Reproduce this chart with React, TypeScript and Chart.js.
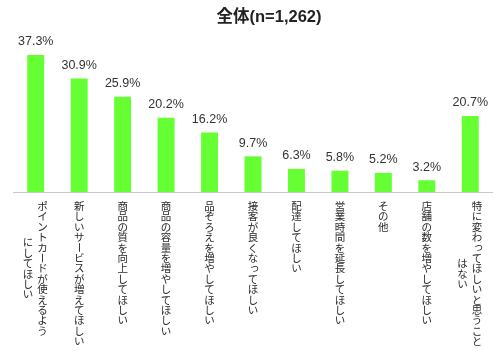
import { useEffect, useRef } from 'react';
import { Chart, registerables } from 'chart.js';

Chart.register(...registerables);

const chartTitle = '全体(n=1,262)';
const categories: string[] = [
  'ポイントカードが使えるよう\nにしてほしい',
  '新しいサービスが増えてほしい',
  '商品の質を向上してほしい',
  '商品の容量を増やしてほしい',
  '品ぞろえを増やしてほしい',
  '接客が良くなってほしい',
  '配達してほしい',
  '営業時間を延長してほしい',
  'その他',
  '店舗の数を増やしてほしい',
  '特に変わってほしいと思うこと\nはない',
];
const values: number[] = [37.3, 30.9, 25.9, 20.2, 16.2, 9.7, 6.3, 5.8, 5.2, 3.2, 20.7];

const LATIN_CJK = '"Liberation Sans", Arial, "Noto Sans CJK JP", sans-serif';
const CJK = '"Noto Sans CJK JP", "Liberation Sans", sans-serif';
const SMALL_KANA = 'ぁぃぅぇぉっゃゅょゎァィゥェォッャュョヮ';

const drawPlugin = {
  id: 'customDraw',
  afterDatasetsDraw(chart: any) {
    const ctx: CanvasRenderingContext2D = chart.ctx;
    const area = chart.chartArea;
    const xs = chart.scales.x;
    const ys = chart.scales.y;
    const meta = chart.getDatasetMeta(0);
    ctx.save();

    // axis line
    const y0 = Math.round(ys.getPixelForValue(0));
    ctx.fillStyle = '#c8c8c8';
    ctx.fillRect(area.left - 1, y0, area.right - area.left + 2, 1);

    // value labels
    ctx.fillStyle = '#333333';
    ctx.font = `12.5px ${LATIN_CJK}`;
    ctx.textAlign = 'center';
    ctx.textBaseline = 'middle';
    meta.data.forEach((bar: any, i: number) => {
      ctx.fillText(values[i].toFixed(1) + '%', bar.x, bar.y - 13);
    });

    // vertical category labels
    const step = 10.4;
    const colGap = 14.5;
    const top = y0 + 14;
    ctx.fillStyle = '#2a2a2a';
    ctx.font = `10.5px ${CJK}`;
    categories.forEach((label, i) => {
      const cx = xs.getPixelForValue(i);
      const cols = label.split('\n').map((c) => Array.from(c));
      const n = cols.length;
      const maxLen = Math.max(...cols.map((c) => c.length));
      cols.forEach((chars, c) => {
        const colX = cx + ((n - 1) / 2 - c) * colGap + (n > 1 ? -0.5 : 0);
        const startY = top + ((maxLen - chars.length) * step) / 2;
        chars.forEach((ch, j) => {
          const cy = startY + j * step;
          if (ch === 'ー') {
            ctx.save();
            ctx.translate(colX, cy);
            ctx.rotate(Math.PI / 2);
            ctx.fillText(ch, 0, 0);
            ctx.restore();
          } else if (SMALL_KANA.includes(ch)) {
            ctx.fillText(ch, colX + 1.5, cy - 1.5);
          } else {
            ctx.fillText(ch, colX, cy);
          }
        });
      });
    });

    // title
    ctx.fillStyle = '#222222';
    ctx.font = `bold 16.5px ${LATIN_CJK}`;
    ctx.textAlign = 'center';
    ctx.fillText(chartTitle, 269, 17);

    ctx.restore();
  },
};

export default function App() {
  const ref = useRef<HTMLCanvasElement>(null);
  useEffect(() => {
    if (!ref.current) return;
    const chart = new Chart(ref.current, {
      type: 'bar',
      data: {
        labels: categories,
        datasets: [
          {
            data: values,
            backgroundColor: '#66ff33',
            borderWidth: 0,
            barPercentage: 0.39,
            categoryPercentage: 1,
          },
        ],
      },
      options: {
        responsive: false,
        animation: false,
        layout: { padding: { left: 14, right: 8, top: 45, bottom: 163 } },
        plugins: {
          legend: { display: false },
          title: { display: false },
          tooltip: { enabled: false },
        },
        scales: {
          x: { display: false },
          y: { display: false, min: 0, max: 40 },
        },
      },
      plugins: [drawPlugin],
    });
    return () => chart.destroy();
  }, []);
  return (
    <div style={{ position: 'fixed', left: 0, top: 0, width: 500, height: 355, background: '#fff' }}>
      <canvas ref={ref} width={500} height={355} />
    </div>
  );
}
